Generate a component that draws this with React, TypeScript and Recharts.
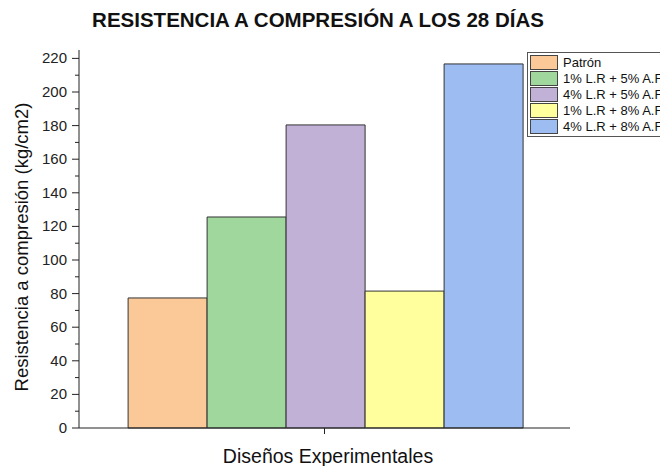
import React from 'react';
import { BarChart, Bar, XAxis, YAxis } from 'recharts';

const seriesNames = ['Patrón', '1% L.R + 5% A.F', '4% L.R + 5% A.F', '1% L.R + 8% A.F', '4% L.R + 8% A.F'];
const seriesKeys = ['s1', 's2', 's3', 's4', 's5'];
const seriesValues = [77.4, 125.6, 180.4, 81.5, 216.7];
const seriesColors = ['#FBC898', '#9FD79D', '#C2B1D6', '#FFFF9E', '#9CBCF2'];
const yTicks = [0, 10, 20, 30, 40, 50, 60, 70, 80, 90, 100, 110, 120, 130, 140, 150, 160, 170, 180, 190, 200, 210, 220];

const row: Record<string, string | number> = { name: '' };
seriesKeys.forEach((k, i) => { row[k] = seriesValues[i]; });
const data = [row];

const font = 'Arial, "Liberation Sans", sans-serif';

const YTick = (props: any) => {
  const { x, y, payload } = props;
  const major = payload.value % 20 === 0;
  return (
    <g>
      <line x1={x - (major ? 7 : 4)} x2={x} y1={y} y2={y} stroke="#222" strokeWidth={1} />
      {major && (
        <text x={x - 12} y={y} dy={5} textAnchor="end" fontSize={15} fill="#222" fontFamily={font}>
          {payload.value}
        </text>
      )}
    </g>
  );
};

const XTick = () => <g />;

const LegendBox = () => (
  <div style={{ position: 'absolute', left: 527, top: 52, border: '1px solid #555', background: '#fff', width: 150, padding: '1px 0 2px 2px', fontFamily: font, fontSize: 13, color: '#111' }}>
    {seriesNames.map((n, i) => (
      <div key={n} style={{ display: 'flex', alignItems: 'center', height: 16 }}>
        <span style={{ display: 'inline-block', width: 26, height: 13, background: seriesColors[i], border: '1px solid #444', marginRight: 5 }} />
        <span style={{ whiteSpace: 'nowrap' }}>{n}</span>
      </div>
    ))}
  </div>
);

export default function App() {
  return (
    <div style={{ position: 'absolute', left: 0, top: 0, width: 660, height: 466, overflow: 'hidden', background: '#fff' }}>
      <div style={{ position: 'absolute', left: 318, top: 20, transform: 'translate(-50%, -50%)', whiteSpace: 'nowrap', fontFamily: font, fontWeight: 'bold', fontSize: 20.5, color: '#111' }}>
        RESISTENCIA A COMPRESIÓN A LOS 28 DÍAS
      </div>
      <BarChart width={660} height={466} data={data} margin={{ top: 50, right: 90, bottom: 0, left: 0 }} barGap={0} barCategoryGap="10%">
        <XAxis dataKey="name" height={38} tickSize={6} tick={XTick} axisLine={{ stroke: '#222' }} tickLine={{ stroke: '#222' }} />
        <YAxis width={79} domain={[0, 225]} ticks={yTicks} interval={0} tickSize={0} tickMargin={0} tickLine={false} axisLine={{ stroke: '#222' }} tick={<YTick />} />
        {seriesKeys.map((k, i) => (
          <Bar key={k} dataKey={k} name={seriesNames[i]} fill={seriesColors[i]} stroke="#333" strokeWidth={1} isAnimationActive={false} />
        ))}
      </BarChart>
      <LegendBox />
      <div style={{ position: 'absolute', left: 22, top: 247, transform: 'translate(-50%, -50%) rotate(-90deg)', whiteSpace: 'nowrap', fontFamily: font, fontSize: 18.5, color: '#111' }}>
        Resistencia a compresión (kg/cm2)
      </div>
      <div style={{ position: 'absolute', left: 328, top: 456, transform: 'translate(-50%, -50%)', whiteSpace: 'nowrap', fontFamily: font, fontSize: 19.5, color: '#111' }}>
        Diseños Experimentales
      </div>
    </div>
  );
}
